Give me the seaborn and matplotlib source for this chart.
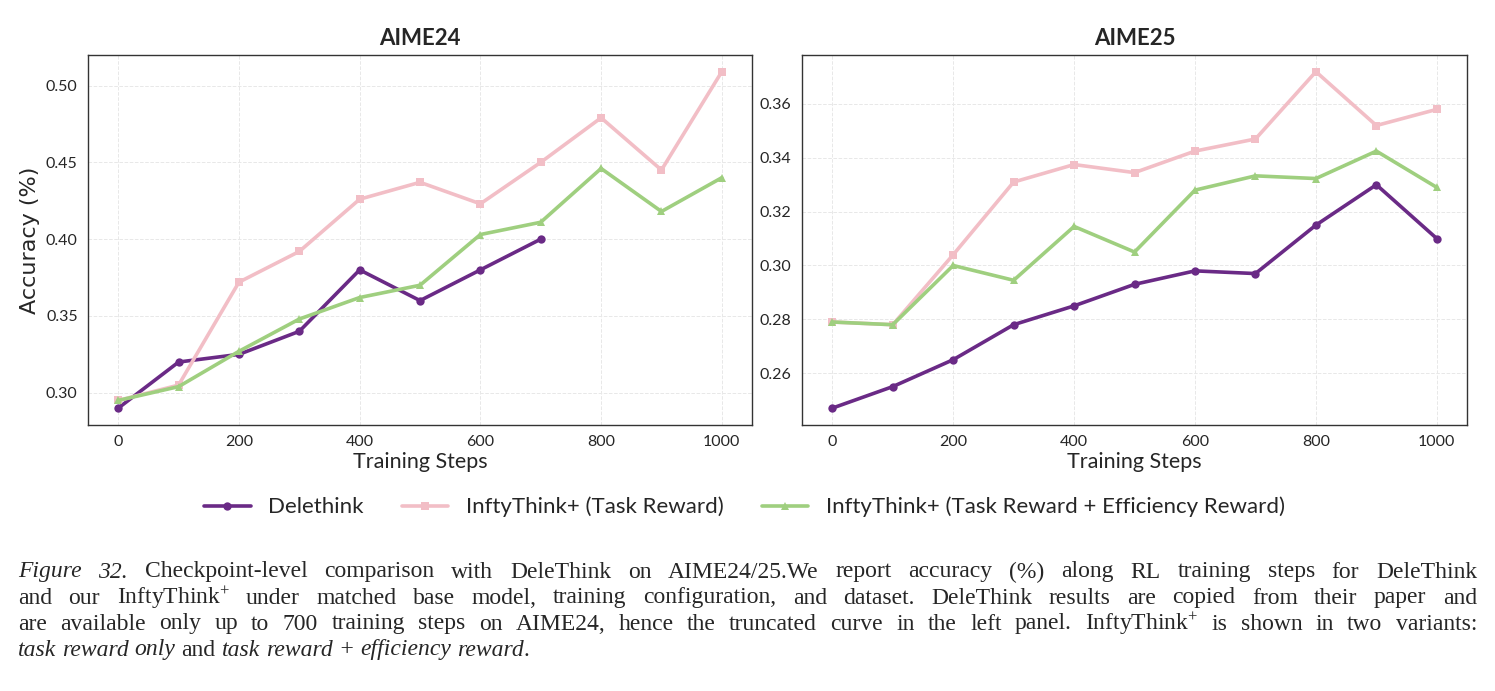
import numpy as np
import pandas as pd
import matplotlib
matplotlib.use("Agg")
import matplotlib.pyplot as plt
import matplotlib.ticker as mticker
import seaborn as sns

# data
steps = [0, 100, 200, 300, 400, 500, 600, 700, 800, 900, 1000]
methods = ["Delethink", "InftyThink+ (Task Reward)", "InftyThink+ (Task Reward + Efficiency Reward)"]

aime24_delethink = [0.290, 0.320, 0.325, 0.340, 0.380, 0.360, 0.380, 0.400]
aime24_task = [0.295, 0.305, 0.372, 0.392, 0.426, 0.437, 0.423, 0.450, 0.479, 0.445, 0.509]
aime24_eff = [0.295, 0.304, 0.327, 0.348, 0.362, 0.370, 0.403, 0.411, 0.446, 0.418, 0.440]

aime25_delethink = [0.247, 0.255, 0.265, 0.278, 0.285, 0.293, 0.298, 0.297, 0.315, 0.330, 0.310]
aime25_task = [0.279, 0.278, 0.304, 0.331, 0.3375, 0.3345, 0.3425, 0.347, 0.372, 0.352, 0.358]
aime25_eff = [0.279, 0.278, 0.300, 0.2945, 0.3145, 0.305, 0.328, 0.3333, 0.3323, 0.3425, 0.329]

colors = {methods[0]: "#6a2a86", methods[1]: "#f2bec6", methods[2]: "#9fcf7f"}
markers = {methods[0]: "o", methods[1]: "s", methods[2]: "^"}


def to_frame(series):
    rows = []
    for name, vals in zip(methods, series):
        for s, v in zip(steps, vals):
            rows.append({"step": s, "acc": v, "method": name})
    return pd.DataFrame(rows)


df24 = to_frame([aime24_delethink, aime24_task, aime24_eff])
df25 = to_frame([aime25_delethink, aime25_task, aime25_eff])

sns.set_style("white")
plt.rcParams["font.family"] = ["Lato", "DejaVu Sans"]

fig = plt.figure(figsize=(14.95, 6.91), dpi=100)
ax1 = fig.add_axes([0.0589, 0.385, 0.4441, 0.5356])
ax2 = fig.add_axes([0.5365, 0.385, 0.4448, 0.5356])

for ax, df, title in [(ax1, df24, "AIME24"), (ax2, df25, "AIME25")]:
    sns.lineplot(data=df, x="step", y="acc", hue="method", style="method",
                 palette=colors, markers=markers, dashes=False, hue_order=methods,
                 style_order=methods, linewidth=2.6, markersize=6, markeredgewidth=0,
                 ax=ax, legend=(ax is ax1))
    ax.set_title(title, fontsize=16, fontweight="bold", pad=7)
    ax.set_xlabel("Training Steps", fontsize=15.5, labelpad=2)
    ax.set_ylabel("")
    ax.set_xticks([0, 200, 400, 600, 800, 1000])
    ax.set_xlim(-50, 1050)
    ax.grid(True, linestyle="--", color="#e8e8e8", linewidth=0.7)
    ax.tick_params(axis="both", labelsize=11.5, length=4, color="#333333")
    for sp in ax.spines.values():
        sp.set_color("#333333")
        sp.set_linewidth(1.0)

ax1.set_yticks([0.30, 0.35, 0.40, 0.45, 0.50])
ax1.yaxis.set_major_formatter(mticker.FormatStrFormatter("%.2f"))
ax2.set_yticks([0.26, 0.28, 0.30, 0.32, 0.34, 0.36])
ax2.yaxis.set_major_formatter(mticker.FormatStrFormatter("%.2f"))
ax1.set_ylabel("Accuracy (%)", fontsize=16, family=["DejaVu Sans"], labelpad=4)

handles, labels = ax1.get_legend_handles_labels()
ax1.get_legend().remove()
fig.legend(handles, labels, loc="center", bbox_to_anchor=(0.498, 0.266), ncol=3,
           frameon=False, fontsize=16, handlelength=2.1, columnspacing=1.7,
           handletextpad=0.8)

# caption, drawn word by word so that the lines are justified
serif = ["Liberation Serif", "DejaVu Serif"]
cap_size = 17
left_px, right_px = 18, 1477
lines = [
    ([("Figure 32.", "italic"), ("Checkpoint-level comparison with DeleThink on AIME24/25.We report accuracy (%) along RL training steps for DeleThink", "normal")], True),
    ([("and our InftyThink$^{+}$ under matched base model, training configuration, and dataset. DeleThink results are copied from their paper and", "normal")], True),
    ([("are available only up to 700 training steps on AIME24, hence the truncated curve in the left panel. InftyThink$^{+}$ is shown in two variants:", "normal")], True),
    ([("task reward only", "italic"), ("and", "normal"), ("task reward + efficiency reward", "italic"), (".", "join")], False),
]
line_y = [572, 598, 624, 650]

plt.rcParams["mathtext.fontset"] = "custom"
plt.rcParams["mathtext.rm"] = "Liberation Serif"
plt.rcParams["mathtext.it"] = "Liberation Serif:italic"

renderer = fig.canvas.get_renderer()


def word_width(w, style):
    t = fig.text(0, 0, w, fontsize=cap_size, family=serif,
                 style="italic" if style == "italic" else "normal")
    bb = t.get_window_extent(renderer=renderer)
    t.remove()
    return bb.width


space_w = word_width("a b", "normal") - word_width("ab", "normal")

for (segments, justify), yp in zip(lines, line_y):
    words = []
    for text, style in segments:
        if style == "join":
            words[-1] = (words[-1][0], words[-1][1], text)
            continue
        for w in text.split(" "):
            words.append((w, style, ""))
    widths = [word_width(w, s) + (word_width(j, "normal") if j else 0) for w, s, j in words]
    total = right_px - left_px
    gap = (total - sum(widths)) / (len(words) - 1) if justify else space_w
    x = left_px
    for (w, s, j), wd in zip(words, widths):
        fig.text(x / 1495, 1 - yp / 691, w, fontsize=cap_size, family=serif,
                 style="italic" if s == "italic" else "normal", va="center", ha="left")
        if j:
            ww = word_width(w, s)
            fig.text((x + ww) / 1495, 1 - yp / 691, j, fontsize=cap_size, family=serif,
                     va="center", ha="left")
        x += wd + gap

fig.savefig("out.png", dpi=100)
